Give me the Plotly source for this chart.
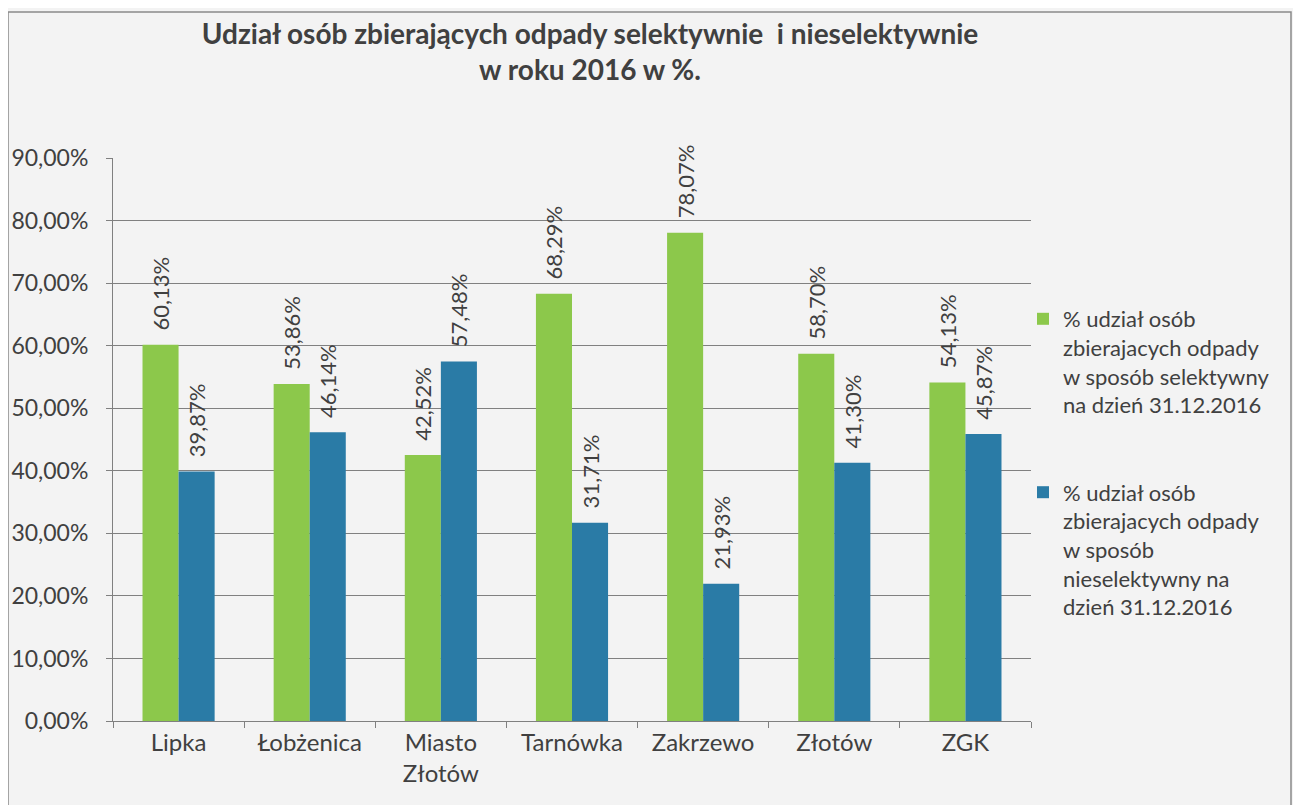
import plotly.graph_objects as go

categories = ["Lipka", "Łobżenica", "Miasto<br>Złotów", "Tarnówka", "Zakrzewo", "Złotów", "ZGK"]
selective = [60.13, 53.86, 42.52, 68.29, 78.07, 58.70, 54.13]
nonselective = [39.87, 46.14, 57.48, 31.71, 21.93, 41.30, 45.87]
name_sel = "% udział osób<br>zbierajacych odpady<br>w sposób selektywny<br>na dzień 31.12.2016"
name_non = "% udział osób<br>zbierajacych odpady<br>w sposób<br>nieselektywny na<br>dzień 31.12.2016"
title_text = "Udział osób zbierających odpady selektywnie  i nieselektywnie<br>w roku 2016 w %."

GREEN = "#8cc84b"
BLUE = "#2a7ba6"
TXT = "#404040"
FONT = "Lato, 'Open Sans', sans-serif"

# page offset (body margin) and figure size
OFF = 8
W, H = 1293, 797
ml, mr, mt, mb = 105, 270, 150, 84
pw, ph = W - ml - mr, H - mt - mb
PLOT_BOTTOM = OFF + mt + ph


def px_x(p):
    return (p - OFF - ml) / pw


def px_y(p):
    return (PLOT_BOTTOM - p) / ph


fig = go.Figure()
for i, (vals, name, col) in enumerate([(selective, name_sel, GREEN), (nonselective, name_non, BLUE)]):
    fig.add_trace(go.Bar(
        x=categories, y=vals, name=name, legendgroup=f"g{i}",
        marker=dict(color=col, line=dict(width=0)),
        texttemplate="\u00a0\u00a0%{y:.2f}%", textposition="outside", textangle=-90,
        textfont=dict(size=22, color=TXT, family=FONT),
        cliponaxis=False, constraintext="none",
    ))

fig.update_layout(
    width=W, height=H,
    margin=dict(l=ml, r=mr, t=mt, b=mb, autoexpand=False),
    paper_bgcolor="#f3f3f3", plot_bgcolor="#f3f3f3",
    separators=", ",
    barmode="group", bargap=0.45, bargroupgap=0,
    font=dict(family=FONT, color=TXT, size=22),
    title=dict(text=title_text, x=(590 - OFF) / W, xanchor="center", xref="container",
               y=1 - (44 - OFF) / H, yanchor="middle", yref="container",
               font=dict(size=28, color=TXT, family=FONT, weight="bold")),
    legend=dict(x=px_x(1023), y=px_y(298), xanchor="left", yanchor="top",
                font=dict(size=22, color=TXT, family=FONT), bgcolor="rgba(0,0,0,0)",
                tracegroupgap=56, itemwidth=30, valign="top"),
    showlegend=True,
    shapes=[dict(type="rect", xref="paper", yref="paper",
                 x0=px_x(8), x1=px_x(1291),
                 y0=px_y(840), y1=px_y(12),
                 line=dict(color="#8a8a8a", width=1.5), layer="below")],
)
fig.update_yaxes(range=[0, 90], dtick=10, tickformat=".2f", ticksuffix="%",
                 showgrid=True, gridcolor="#808080", gridwidth=1,
                 showline=True, linecolor="#808080", linewidth=1,
                 ticks="outside", ticklen=6, tickcolor="#808080", ticklabelstandoff=13,
                 tickfont=dict(size=23, color=TXT), zeroline=False, automargin=False)
fig.update_xaxes(showline=True, linecolor="#808080", linewidth=1,
                 ticks="outside", ticklen=6, tickcolor="#808080", tickson="boundaries",
                 tickfont=dict(size=24, color=TXT), showgrid=False, automargin=False)

fig.write_html("out.html")
